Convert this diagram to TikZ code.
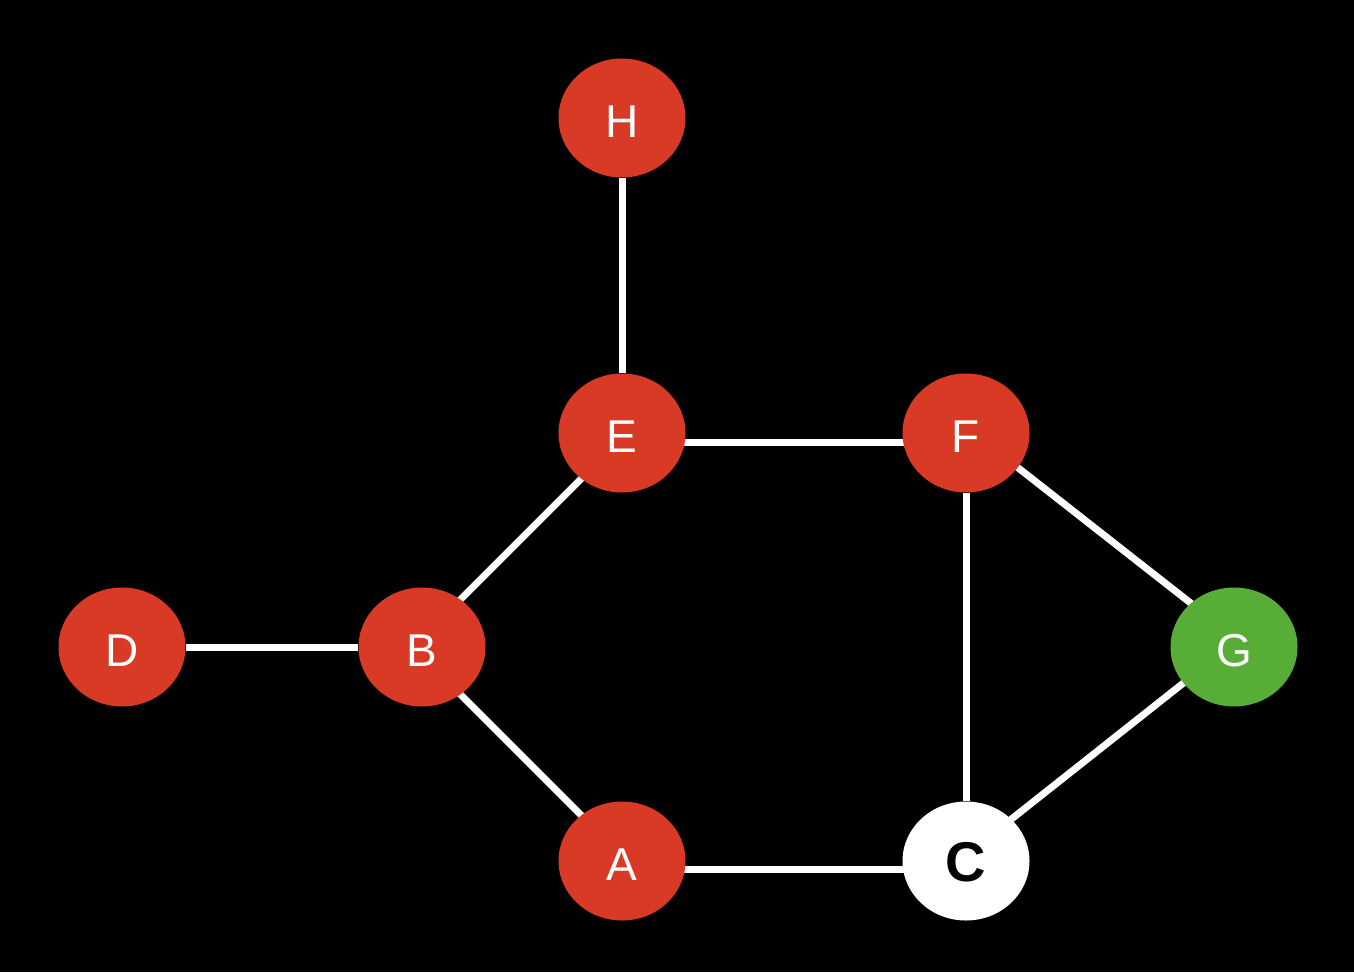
\documentclass[tikz,border=0pt]{standalone}
\usepackage{fontspec}
\setmainfont{Liberation Sans}
\usetikzlibrary{shapes.geometric, positioning, backgrounds}
\definecolor{cRed}{RGB}{216,58,38}
\definecolor{cGreen}{RGB}{87,173,53}
\tikzset{
	vtx/.style  ={ellipse, minimum width=127pt, minimum height=119pt, inner sep=0pt, fill=cRed, text=white, text height=39pt, text depth=0pt, font=\fontsize{46}{46}\selectfont},
	goal/.style ={vtx, fill=cGreen},
	cur/.style  ={vtx, fill=white, text=black, text height=41pt, font=\fontsize{56}{56}\selectfont\bfseries},
	edge/.style ={draw=white, line width=7pt},
}
\begin{document}
\begin{tikzpicture}[x=1pt, y=-1pt]
	\useasboundingbox (0,0) rectangle (1354,972);
	% vertices
	\node[vtx]  (H) at (622,118) {H};
	\node[vtx]  (E) at (622,433) {E};
	\node[vtx]  (F) at (966,433) {F};
	\node[vtx]  (D) at (122,647) {D};
	\node[vtx]  (B) at (422,647) {B};
	\node[goal] (G) at (1234,647) {G};
	\node[vtx]  (A) at (622,861) {A};
	\node[cur]  (C) at (966,861) {C};
	% edges, behind the vertices
	\begin{pgfonlayer}{background}
		\fill[black] (0,0) rectangle (1354,972);
		\draw[edge] (H) -- (E);
		\draw[edge] ([yshift=9pt]B.center) -- ([yshift=-5pt]E.center);
		\draw[edge] (D) -- (B);
		\draw[edge] ([yshift=-9pt]B.center) -- ([yshift=5pt]A.center);
		\draw[edge] ([yshift=-9pt]E.center) -- ([yshift=-9pt]F.center);
		\draw[edge] ([yshift=-8pt]A.center) -- ([yshift=-8pt]C.center);
		\draw[edge] (F) -- (C);
		\draw[edge] ([yshift=6pt]F.center) -- ([yshift=10pt]G.center);
		\draw[edge] ([yshift=4pt]G.center) -- ([yshift=6pt]C.center);
	\end{pgfonlayer}
\end{tikzpicture}
\end{document}
